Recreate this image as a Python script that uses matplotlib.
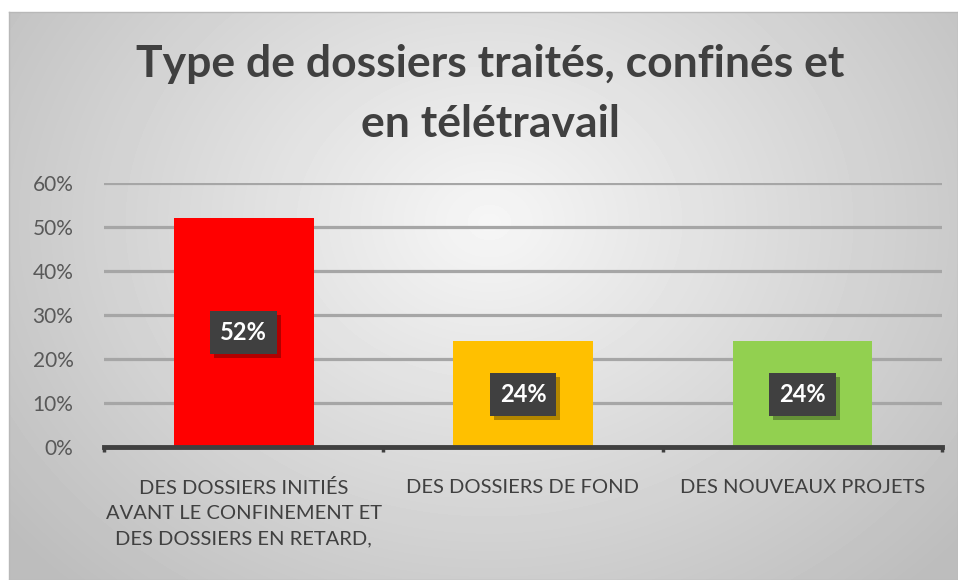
import numpy as np
import matplotlib
matplotlib.use("Agg")
import matplotlib.pyplot as plt
import matplotlib.patheffects as pe

categories = ["DES DOSSIERS INITIÉS\nAVANT LE CONFINEMENT ET\nDES DOSSIERS EN RETARD,",
              "DES DOSSIERS DE FOND",
              "DES NOUVEAUX PROJETS"]
values = [0.52, 0.24, 0.24]
bar_colors = ["#FF0000", "#FFC000", "#92D050"]
yticks = [0, 0.1, 0.2, 0.3, 0.4, 0.5, 0.6]
title = "Type de dossiers traités, confinés et\nen télétravail"

plt.rcParams['font.family'] = ['Lato', 'DejaVu Sans']

W, H = 958, 580
fig = plt.figure(figsize=(W / 100, H / 100), dpi=100)
fig.patch.set_facecolor("white")

# background panel with radial gradient
bg = fig.add_axes([9 / W, 0, 1 - 9 / W, 1 - 12 / H])
yy, xx = np.mgrid[0:568, 0:949]
r = np.sqrt(((xx - 480) / 520.0) ** 2 + ((yy - 210) / 420.0) ** 2)
shade = np.clip(0.965 - 0.19 * r, 0.74, 0.97)
bg.imshow(shade, cmap="gray", vmin=0, vmax=1, aspect="auto", interpolation="bilinear")
bg.set_xticks([])
bg.set_yticks([])
for s in bg.spines.values():
    s.set_color("#b8b8b8")
    s.set_linewidth(1)

fig.text(490 / W, 1 - 94 / H, title, ha="center", va="center", fontsize=32,
         fontweight="bold", color="#404040", linespacing=1.62)

ax = fig.add_axes([104 / W, 133 / H, 838 / W, 264 / H])
ax.set_facecolor("none")
x = np.arange(len(categories))
ax.bar(x, values, width=0.5, color=bar_colors, zorder=3)
ax.set_xlim(-0.5, 2.5)
ax.set_ylim(0, 0.6)
ax.set_yticks(yticks)
ax.set_yticklabels([f"{int(round(t * 100))}%" for t in yticks], fontsize=15, color="#595959")
ax.tick_params(axis="y", length=0, pad=22)
for t in yticks[1:]:
    ax.axhline(t, color="#a6a6a6", lw=2.3, zorder=1)

ax.set_xticks(x)
ax.set_xticklabels(categories, fontsize=14.5, color="#404040", linespacing=1.6, va="top")
ax.tick_params(axis="x", length=0, pad=23)
for xb in [-0.5, 0.5, 1.5, 2.5]:
    ax.plot([xb, xb], [0, -0.012], color="#404040", lw=2.5, clip_on=False, zorder=4,
            solid_capstyle="butt")

for s in ["top", "right", "left"]:
    ax.spines[s].set_visible(False)
ax.spines["bottom"].set_color("#404040")
ax.spines["bottom"].set_linewidth(3.5)
ax.spines["bottom"].set_zorder(4)

# data labels with dark box and soft shadow
for xi, v in zip(x, values):
    lbl = f"{int(round(v * 100))}%"
    t = ax.text(xi, v / 2, lbl, ha="center", va="center", fontsize=17, fontweight="bold",
                color="white", zorder=5,
                bbox=dict(boxstyle="square,pad=0.42", fc="#404040", ec="none"))
    t.get_bbox_patch().set_path_effects([
        pe.SimplePatchShadow(offset=(3, -3), shadow_rgbFace="black", alpha=0.3),
        pe.Normal()])

fig.savefig("out.png", dpi=100)
